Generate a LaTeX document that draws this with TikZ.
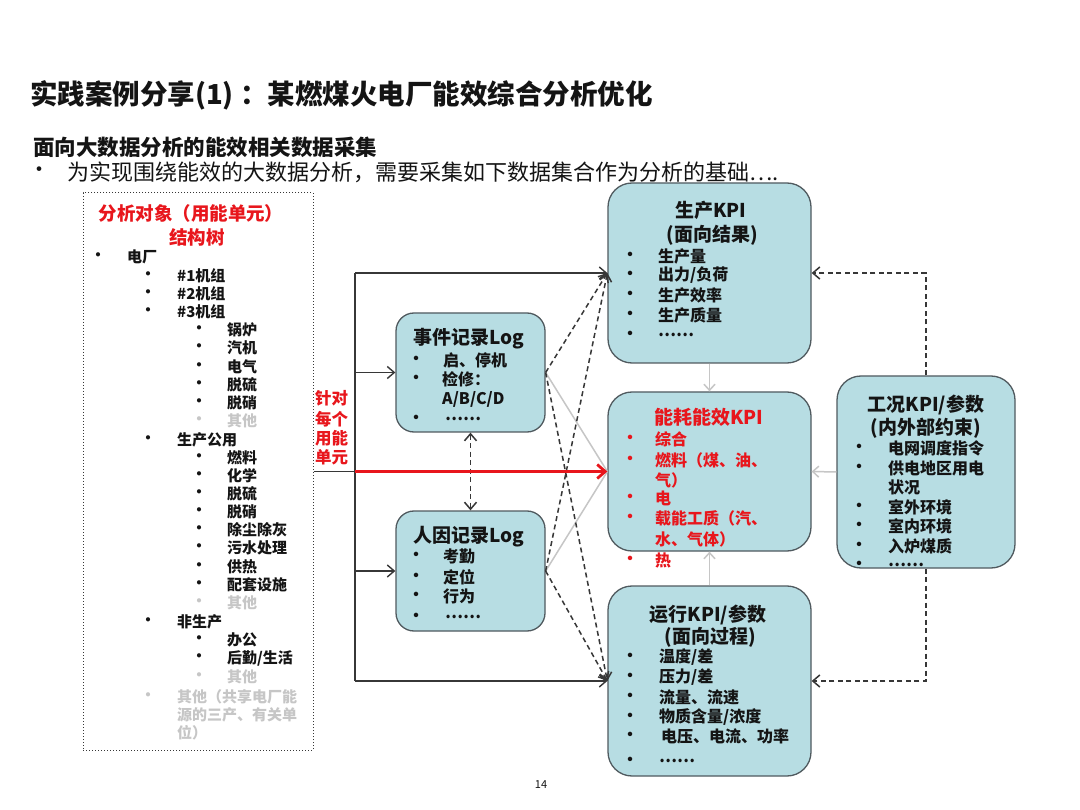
\documentclass[tikz,border=0pt]{standalone}
\usepackage{fontspec}
\setmainfont{Noto Sans CJK SC}
\usetikzlibrary{arrows.meta}
\definecolor{boxfill}{RGB}{183,221,227}
\definecolor{boxline}{RGB}{80,90,95}
\definecolor{kred}{RGB}{232,22,28}
\definecolor{kgray}{RGB}{198,198,198}
\definecolor{dk}{RGB}{55,55,55}
\definecolor{txt}{RGB}{20,20,20}
\newcommand\tli[6]{\node[#5] (#1b) at (#2,#4) {•};\node[#5,anchor=west] (#1) at (#3,#4) {#6};}
\tikzset{
  kbox/.style={draw=boxline, fill=boxfill, line width=1.3pt, rounded corners=24pt, inner sep=0},
  sbox/.style={kbox, rounded corners=18pt},
  tl/.style={inner sep=0, text=txt},
  trl/.style={tl, font=\bfseries\fontsize{15}{15}\selectfont},
  trg/.style={trl, text=kgray},
  bl/.style={tl, font=\bfseries\fontsize{16}{16}\selectfont},
  br/.style={bl, text=kred},
  bt/.style={tl, font=\bfseries\fontsize{19}{19}\selectfont},
  btr/.style={bt, text=kred},
  tip/.style={-{Straight Barb[length=7pt,width=12pt]}},
  blk/.style={draw=dk, line width=1.4pt},
  dsh/.style={draw=dk, line width=1.5pt, dash pattern=on 5pt off 3.5pt},
  gry/.style={draw=kgray, line width=1.5pt},
  gtip/.style={-{Straight Barb[length=6pt,width=11pt]}},
  redarr/.style={draw=kred, line width=2.8pt, -{Straight Barb[length=8pt,width=14pt]}},
}
\begin{document}
\begin{tikzpicture}[x=1pt,y=-1pt]
\useasboundingbox[fill=white] (0,0) rectangle (1080,810);
% headings
\node[tl, anchor=west, font=\bfseries\fontsize{27.5}{27.5}\selectfont] (title) at (30,95) {实践案例分享(1) ：某燃煤火电厂能效综合分析优化};
\node[tl, anchor=west, font=\bfseries\fontsize{21.5}{21.5}\selectfont] (sub) at (33,147) {面向大数据分析的能效相关数据采集};
\node[tl, font=\fontsize{22}{22}\selectfont] (intb) at (39,172) {•};
\node[tl, anchor=west, font=\fontsize{22}{22}\selectfont] (intro) at (67,172) {为实现围绕能效的大数据分析，需要采集如下数据集合作为分析的基础….};
\node[tl, font=\fontsize{11}{11}\selectfont] (pg) at (541,785) {14};

% boxes
\node[draw=dk, dotted, line width=1pt, minimum width=230, minimum height=557, inner sep=0] (tree) at (198,471.5) {};
\node[kbox, minimum width=203, minimum height=180] (sc) at (709.5,273) {};
\node[kbox, minimum width=203, minimum height=159] (ne) at (709.5,471.5) {};
\node[kbox, minimum width=203, minimum height=190] (ru) at (709.5,681) {};
\node[kbox, minimum width=178, minimum height=192] (gk) at (926,472) {};
\node[sbox, minimum width=149, minimum height=119] (ev) at (470.5,372.5) {};
\node[sbox, minimum width=149, minimum height=120] (hu) at (470.5,571) {};
\coordinate (trk) at (355,0);

% connectors
\draw[gry] (ev.east) -- (ne.west);
\draw[gry] (hu.east) -- (ne.west);
\draw[dsh,tip] (ev.east) -- (sc.west);
\draw[dsh,tip] (ev.east) -- (ru.west);
\draw[dsh,tip] (hu.east) -- (sc.west);
\draw[dsh,tip] (hu.east) -- (ru.west);
\draw[dsh,{Straight Barb[length=7pt,width=12pt]}-{Straight Barb[length=7pt,width=12pt]}] (ev.south) -- (hu.north);
\draw[blk] (sc.west -| trk) -- (ru.west -| trk);
\draw[blk,tip] (sc.west -| trk) -- (sc.west);
\draw[blk,tip] (ev.west -| trk) -- (ev.west);
\draw[blk,tip] (hu.west -| trk) -- (hu.west);
\draw[blk,tip] (ru.west -| trk) -- (ru.west);
\draw[blk] (tree.east |- ne.west) -- (ne.west -| trk);
\draw[redarr] (ne.west -| trk) -- (ne.west);
\draw[gry,gtip] (sc.south) -- (ne.north);
\draw[gry,gtip] (ru.north) -- (ne.south);
\draw[gry,gtip] (gk.west) -- (ne.east);
\draw[dsh,tip] (gk.north) |- (sc.east);
\draw[dsh,tip] (gk.south) |- (ru.east);

% tree
\node[tl, text=kred, font=\bfseries\fontsize{18.5}{18.5}\selectfont] (trt1) at (191,213) {分析对象（用能单元）};
\node[tl, text=kred, font=\bfseries\fontsize{18.5}{18.5}\selectfont] (trt2) at (197,237) {结构树};
\tli{t1}{98}{127}{257}{trl}{电厂}
\tli{t2}{148}{177}{276}{trl}{\#1机组}
\tli{t3}{148}{177}{294}{trl}{\#2机组}
\tli{t4}{148}{177}{312}{trl}{\#3机组}
\tli{t5}{199}{227}{330}{trl}{锅炉}
\tli{t6}{199}{227}{348}{trl}{汽机}
\tli{t7}{199}{227}{367}{trl}{电气}
\tli{t8}{199}{227}{385}{trl}{脱硫}
\tli{t9}{199}{227}{403}{trl}{脱硝}
\tli{t10}{199}{227}{421}{trg}{其他}
\tli{t11}{148}{177}{440}{trl}{生产公用}
\tli{t12}{199}{227}{458}{trl}{燃料}
\tli{t13}{199}{227}{476}{trl}{化学}
\tli{t14}{199}{227}{494}{trl}{脱硫}
\tli{t15}{199}{227}{512}{trl}{脱硝}
\tli{t16}{199}{227}{530}{trl}{除尘除灰}
\tli{t17}{199}{227}{548}{trl}{污水处理}
\tli{t18}{199}{227}{567}{trl}{供热}
\tli{t19}{199}{227}{585}{trl}{配套设施}
\tli{t20}{199}{227}{603}{trg}{其他}
\tli{t21}{148}{177}{622}{trl}{非生产}
\tli{t22}{199}{227}{640}{trl}{办公}
\tli{t23}{199}{227}{658}{trl}{后勤/生活}
\tli{t24}{199}{227}{677}{trg}{其他}
\tli{t25}{148}{177}{697}{trg}{其他（共享电厂能}
\node[trg, anchor=west] (t26) at (177,715) {源的三产、有关单};
\node[trg, anchor=west] (t27) at (177,733) {位）};

% red side label
\node[tl, anchor=west, text=kred, font=\bfseries\fontsize{16.5}{16.5}\selectfont] (r1) at (315,398) {针对};
\node[tl, anchor=west, text=kred, font=\bfseries\fontsize{16.5}{16.5}\selectfont] (r2) at (315,419) {每个};
\node[tl, anchor=west, text=kred, font=\bfseries\fontsize{16.5}{16.5}\selectfont] (r3) at (315,438) {用能};
\node[tl, anchor=west, text=kred, font=\bfseries\fontsize{16.5}{16.5}\selectfont] (r4) at (315,457) {单元};

% event box
\node[bt] (evt) at (469,339) {事件记录Log};
\tli{e1}{416}{443}{360}{bl}{启、停机}
\tli{e2}{416}{442}{379}{bl}{检修：}
\node[bl, anchor=west] (e3) at (442,399) {A/B/C/D};
\tli{e4}{416}{445}{419}{bl}{……}

% human box
\node[bt] (hut) at (469,537) {人因记录Log};
\tli{h1}{416}{443}{556}{bl}{考勤}
\tli{h2}{416}{443}{577}{bl}{定位}
\tli{h3}{416}{443}{596}{bl}{行为}
\tli{h4}{416}{445}{617}{bl}{……}

% production KPI
\node[bt] (sct) at (711,210) {生产KPI};
\node[bt] (sct2) at (712,235) {(面向结果)};
\tli{s1}{630}{658}{256}{bl}{生产量}
\tli{s2}{630}{658}{275}{bl}{出力/负荷}
\tli{s3}{630}{658}{295}{bl}{生产效率}
\tli{s4}{630}{658}{315}{bl}{生产质量}
\tli{s5}{630}{658}{335}{bl}{……}

% energy KPI
\node[btr] (net) at (709,417) {能耗能效KPI};
\tli{n1}{630}{655}{439}{br}{综合}
\tli{n2}{630}{655}{460}{br}{燃料（煤、油、}
\node[br, anchor=west] (n3) at (655,480) {气）};
\tli{n4}{630}{655}{498}{br}{电}
\tli{n5}{630}{655}{518}{br}{载能工质（汽、}
\node[br, anchor=west] (n6) at (655,539) {水、气体）};
\tli{n7}{630}{655}{560}{br}{热}

% operation KPI
\node[bt] (rut) at (708,615) {运行KPI/参数};
\node[bt] (rut2) at (710,637) {(面向过程)};
\tli{u1}{630}{659}{657}{bl}{温度/差}
\tli{u2}{630}{659}{677}{bl}{压力/差}
\tli{u3}{630}{659}{697}{bl}{流量、流速}
\tli{u4}{630}{659}{717}{bl}{物质含量/浓度}
\tli{u5}{630}{661}{736}{bl}{电压、电流、功率}
\tli{u6}{630}{659}{761}{bl}{……}

% condition KPI
\node[bt] (gkt) at (926,405) {工况KPI/参数};
\node[bt] (gkt2) at (926,428) {(内外部约束)};
\tli{g1}{859}{888}{448}{bl}{电网调度指令}
\tli{g2}{859}{888}{468}{bl}{供电地区用电}
\node[bl, anchor=west] (g3) at (888,487) {状况};
\tli{g4}{859}{888}{507}{bl}{室外环境}
\tli{g5}{859}{888}{526}{bl}{室内环境}
\tli{g6}{859}{888}{546}{bl}{入炉煤质}
\tli{g7}{859}{888}{565}{bl}{……}
\end{tikzpicture}
\end{document}
